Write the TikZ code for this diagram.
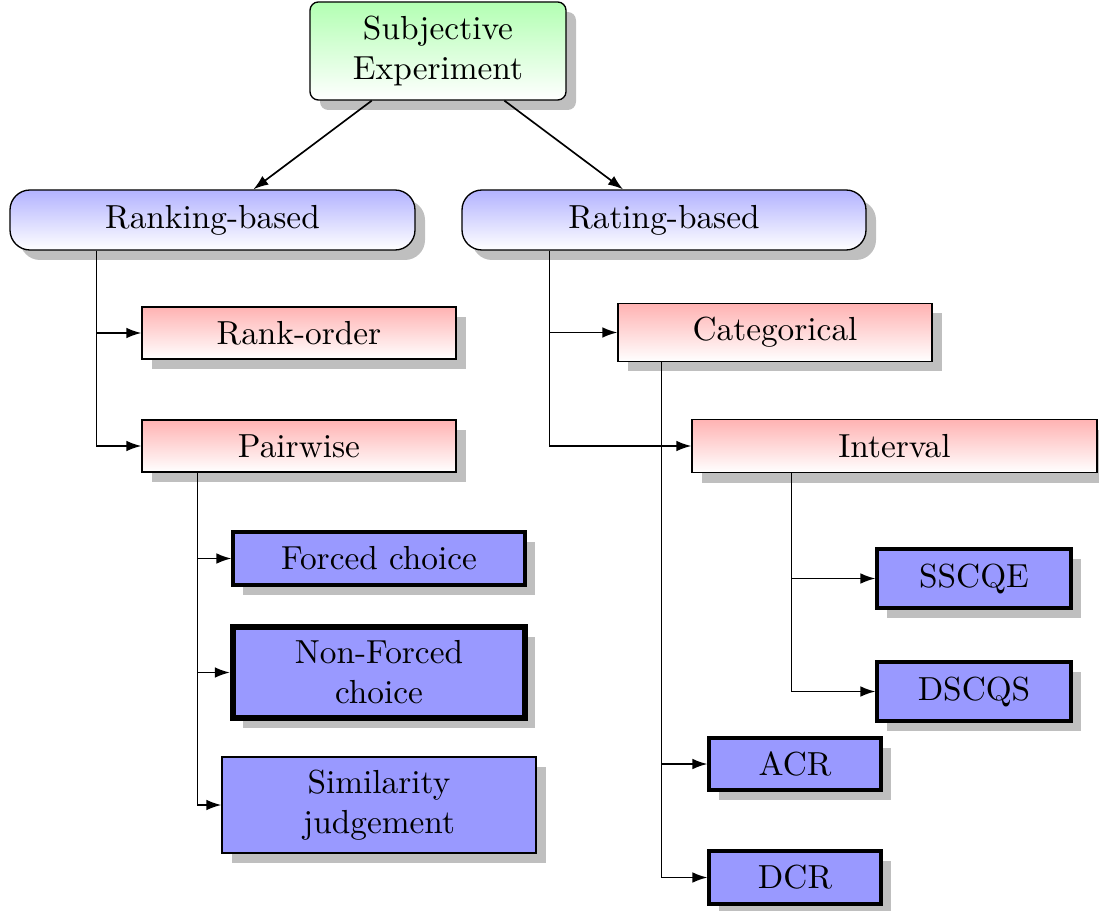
\documentclass[tikz,border=0pt]{standalone}
\usetikzlibrary{shadows,calc,arrows.meta}
\begin{document}
\begin{tikzpicture}[x=0.3pt,y=-0.3pt,
  shad/.style={drop shadow={shadow xshift=3pt,shadow yshift=-3pt,fill=black!25,opacity=1}},
  base/.style={draw,shad,inner sep=2pt,align=center,font=\normalsize},
  rootbox/.style={base,rounded corners=2.5pt,top color=green!30,bottom color=white},
  groupbox/.style={base,rounded corners=6pt,top color=blue!30,bottom color=white},
  midbox/.style={base,top color=red!30,bottom color=white},
  leafbox/.style={base,fill=blue!40},
  boldleaf/.style={leafbox,line width=0.95pt},
  heavyleaf/.style={leafbox,line width=1.9pt},
  conn/.style={line width=0.5pt,-{Latex[length=4.5pt,width=3.2pt]}}
]
\useasboundingbox (0,0) rectangle (1099,911);

% root
\node[rootbox,minimum width=76.8pt,minimum height=29.4pt] (sub) at (438,51) {Subjective\\Experiment};

% two families
\node[groupbox,minimum width=121.5pt,minimum height=18pt] (rank) at (212.5,220) {Ranking-based};
\node[groupbox,minimum width=121.2pt,minimum height=18pt] (rate) at (664,220) {Rating-based};

% ranking methods
\node[midbox,minimum width=94.2pt,minimum height=15.6pt] (rorder) at (299,333) {Rank-order};
\node[midbox,minimum width=94.2pt,minimum height=15.6pt] (pair) at (299,446) {Pairwise};

% rating methods
\node[midbox,minimum width=94.2pt,minimum height=17.4pt] (cat) at (775,332.5) {Categorical};
\node[midbox,minimum width=121.5pt,minimum height=15.9pt] (int) at (894.5,446) {Interval};

% pairwise variants
\node[boldleaf,minimum width=87.6pt,minimum height=15.9pt] (forced) at (379,558.5) {Forced choice};
\node[heavyleaf,minimum width=87.6pt,minimum height=27.3pt] (nonforced) at (379,672.5) {Non-Forced\\choice};
\node[leafbox,minimum width=94.2pt,minimum height=28.8pt] (sim) at (379,805) {Similarity\\judgement};

% interval variants
\node[boldleaf,minimum width=58.2pt,minimum height=17.7pt] (sscqe) at (974,578.5) {SSCQE};
\node[boldleaf,minimum width=58.2pt,minimum height=17.7pt] (dscqs) at (974,691.5) {DSCQS};

% categorical variants
\node[boldleaf,minimum width=51.6pt,minimum height=15.6pt] (acr) at (795,764) {ACR};
\node[boldleaf,minimum width=51.6pt,minimum height=15.9pt] (dcr) at (795,877.5) {DCR};

% connectors
\draw[conn] (sub) -- (rank);
\draw[conn] (sub) -- (rate);

\draw[conn] ($(rank.south west)+(87,0)$) |- (rorder);
\draw[conn] ($(rank.south west)+(87,0)$) |- (pair);

\draw[conn] ($(rate.south west)+(88,0)$) |- (cat);
\draw[conn] ($(rate.south west)+(88,0)$) |- (int);

\draw[conn] ($(pair.south west)+(56,0)$) |- (forced);
\draw[conn] ($(pair.south west)+(56,0)$) |- (nonforced);
\draw[conn] ($(pair.south west)+(56,0)$) |- (sim);

\draw[conn] ($(cat.south west)+(44,0)$) |- (acr);
\draw[conn] ($(cat.south west)+(44,0)$) |- (dcr);

\draw[conn] ($(int.south west)+(100,0)$) |- (sscqe);
\draw[conn] ($(int.south west)+(100,0)$) |- (dscqs);
\end{tikzpicture}
\end{document}
